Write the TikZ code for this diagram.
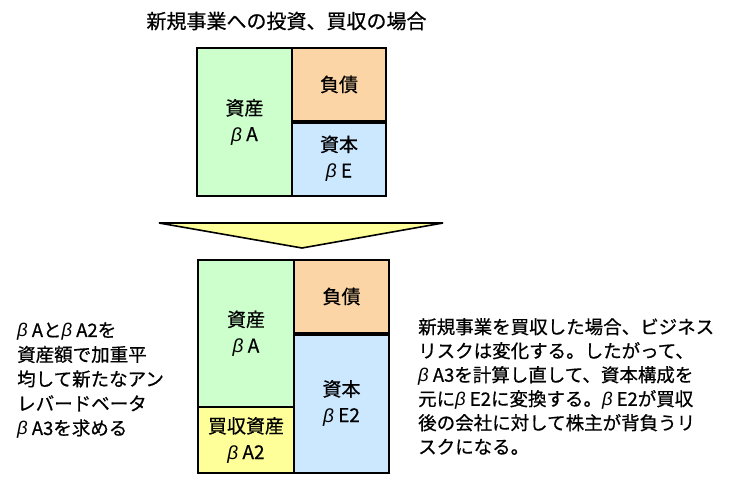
\documentclass[tikz,border=0pt]{standalone}
\usepackage{fontspec}
\setmainfont{Noto Sans CJK JP}[UprightFeatures={FakeBold=0.6}]
\newfontfamily\latf{Liberation Sans}
\newcommand{\bet}{{\latf\itshape β}\hspace{0.22em}}
\definecolor{cgreen}{HTML}{CCFFCC}
\definecolor{cpeach}{HTML}{FBD5A5}
\definecolor{cblue}{HTML}{CCE8FF}
\definecolor{cyel}{HTML}{FFFF99}
\tikzset{
  cell/.style={draw=black, line width=2pt, inner sep=0pt, align=center,
    font=\fontsize{19}{26}\selectfont},
  para/.style={inner sep=0pt, align=left, anchor=north west,
    font=\fontsize{18.5}{24.5}\selectfont},
  thickdiv/.style={line width=3.2pt},
}
\begin{document}
\begin{tikzpicture}[x=1pt,y=-1pt]
\useasboundingbox (0,0) rectangle (741,478);
\fill[white] (0,0) rectangle (741,478);
% title
\node[font=\fontsize{20}{24}\selectfont, inner sep=0pt] (title) at (286.5,21) {新規事業への投資、買収の場合};
% top box
\node[cell, fill=cgreen, minimum width=95pt, minimum height=148pt] (ta) at (244.5,122) {資産\\\bet A};
\node[cell, fill=cpeach, minimum width=94pt, minimum height=73pt] (td) at (339,84.5) {負債};
\node[cell, fill=cblue, minimum width=94pt, minimum height=75pt] (te) at (339,158.5) {資本\\\bet E};
\draw[thickdiv] (td.south west) -- (td.south east);
% arrow
\coordinate (al) at (159,223);
\coordinate (ar) at (443,223);
\coordinate (ap) at (302,248);
\draw[line width=1.6pt, fill=cyel, line join=miter] (al) -- (ar) -- (ap) -- cycle;
% bottom box
\node[cell, fill=cgreen, minimum width=96pt, minimum height=147pt] (ba) at (246,333.5) {資産\\\bet A};
\node[cell, fill=cyel, minimum width=96pt, minimum height=66pt] (ba2) at (246,440) {買収資産\\\bet A2};
\node[cell, fill=cpeach, minimum width=95pt, minimum height=73pt] (bd) at (341.5,296.5) {負債};
\node[cell, fill=cblue, minimum width=95pt, minimum height=140pt] (be) at (341.5,403) {資本\\\bet E2};
\draw[thickdiv] (bd.south west) -- (bd.south east);
% texts
\node[para] (lt) at (17,322) {\bet Aと\bet A2を\\資産額で加重平\\均して新たなアン\\レバードベータ\\\bet A3を求める};
\node[para, font=\fontsize{18.5}{24}\selectfont] (rt) at (418,318) {新規事業を買収した場合、ビジネス\\リスクは変化する。したがって、\\\bet A3を計算し直して、資本構成を\\元に\bet E2に変換する。\bet E2が買収\\後の会社に対して株主が背負うリ\\スクになる。};
\end{tikzpicture}
\end{document}
